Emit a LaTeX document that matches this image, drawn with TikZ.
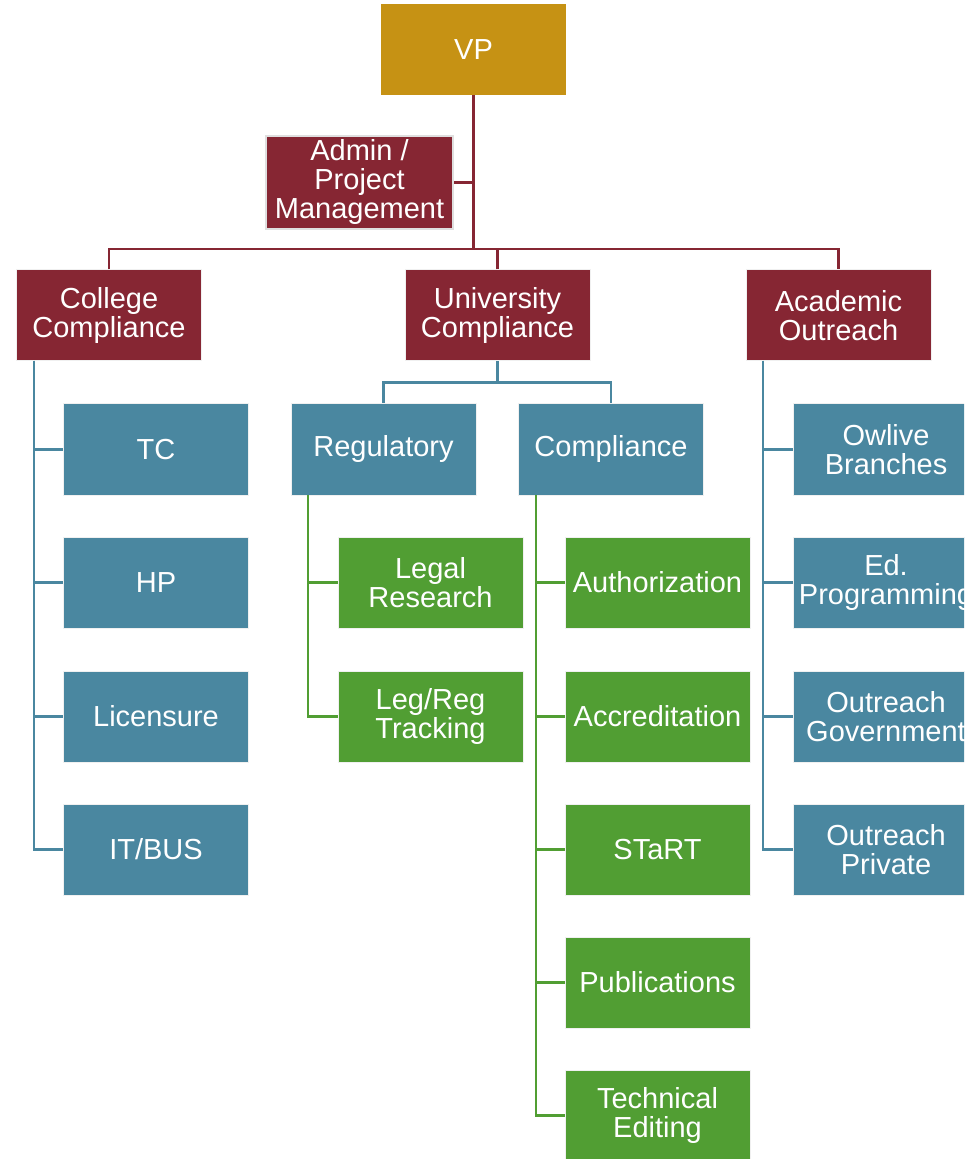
\documentclass[tikz,border=0pt]{standalone}
\usepackage{fontspec}
\setmainfont{Liberation Sans}
\definecolor{vpgold}{HTML}{C69214}
\definecolor{deptred}{HTML}{862633}
\definecolor{unitblue}{HTML}{4A87A0}
\definecolor{teamgreen}{HTML}{519E33}
\tikzset{
  box/.style={rectangle,draw=gray!12,line width=0.5pt,text=white,
    minimum width=92.5pt,minimum height=45.5pt,align=center,inner sep=1pt,
    font=\fontsize{14.5}{14.5}\selectfont},
  vpbox/.style={box,fill=vpgold,draw=none},
  redbox/.style={box,fill=deptred},
  bluebox/.style={box,fill=unitblue},
  greenbox/.style={box,fill=teamgreen},
  redline/.style={draw=deptred,line width=1.2pt},
  blueline/.style={draw=unitblue,line width=1.2pt},
  greenline/.style={draw=teamgreen,line width=1.2pt}
}
\begin{document}
\begin{tikzpicture}[x=0.5pt,y=-0.5pt]
  \useasboundingbox (0,0) rectangle (964,1159);
  \clip (0,0) rectangle (964,1159);
  % top
  \node[vpbox] (vp) at (473.5,49.5) {VP};
  \node[redbox,draw=gray!25,line width=1pt,minimum width=93.5pt,minimum height=46.5pt] (admin) at (359.5,182.5) {Admin /\\Project\\Management};
  \coordinate (bus) at (473.5,249);
  % departments
  \node[redbox] (cc) at (109,315.5) {College\\Compliance};
  \node[redbox] (uc) at (497.5,315.5) {University\\Compliance};
  \node[redbox] (ao) at (838.5,315.5) {Academic\\Outreach};
  \draw[redline] (vp.south) -- (bus);
  \draw[redline] (admin.east) -- (admin.east -| bus);
  \draw[redline] (cc.north) |- (bus) -| (ao.north);
  \draw[redline] (uc.north) -- (uc.north |- bus);
  % college compliance
  \node[bluebox] (tc) at (156,449.5) {TC};
  \node[bluebox] (hp) at (156,582.5) {HP};
  \node[bluebox] (lic) at (156,716.5) {Licensure};
  \node[bluebox] (itbus) at (156,849.5) {IT/BUS};
  \coordinate (ccl) at (34,361);
  \foreach \n in {tc,hp,lic,itbus}
    \draw[blueline] (ccl) |- (\n.west);
  % university compliance
  \node[bluebox] (reg) at (383.5,449.5) {Regulatory};
  \node[bluebox] (comp) at (611,449.5) {Compliance};
  \draw[blueline] (uc.south) -- ++(0,21) -| (reg.north);
  \draw[blueline] (uc.south) ++(0,21) -| (comp.north);
  \node[greenbox] (legal) at (430.5,582.5) {Legal\\Research};
  \node[greenbox] (legreg) at (430.5,716.5) {Leg/Reg\\Tracking};
  \coordinate (regl) at (308,495);
  \foreach \n in {legal,legreg}
    \draw[greenline] (regl) |- (\n.west);
  \node[greenbox] (auth) at (657.5,582.5) {Authorization};
  \node[greenbox] (accr) at (657.5,716.5) {Accreditation};
  \node[greenbox] (start) at (657.5,849.5) {STaRT};
  \node[greenbox] (pubs) at (657.5,982.5) {Publications};
  \node[greenbox] (tech) at (657.5,1115.5) {Technical\\Editing};
  \coordinate (compl) at (536,495);
  \foreach \n in {auth,accr,start,pubs,tech}
    \draw[greenline] (compl) |- (\n.west);
  % academic outreach
  \node[bluebox] (owl) at (886,449.5) {Owlive\\Branches};
  \node[bluebox] (edprog) at (886,582.5) {Ed.\\Programming};
  \node[bluebox] (ogov) at (886,716.5) {Outreach\\Government};
  \node[bluebox] (opriv) at (886,849.5) {Outreach\\Private};
  \coordinate (aol) at (763,361);
  \foreach \n in {owl,edprog,ogov,opriv}
    \draw[blueline] (aol) |- (\n.west);
\end{tikzpicture}
\end{document}
